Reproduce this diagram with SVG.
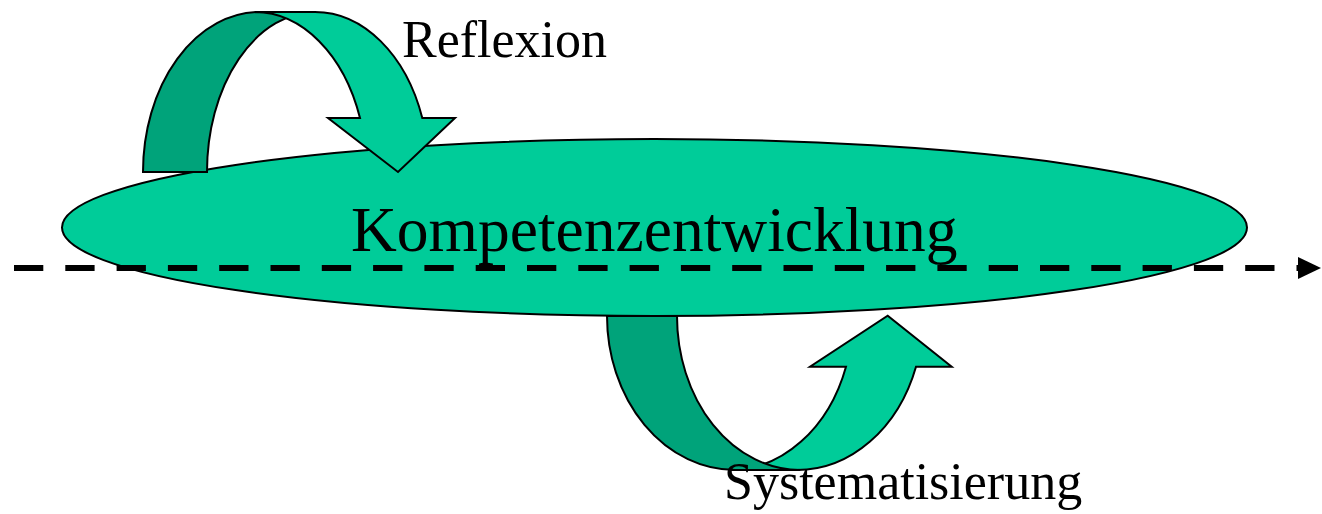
<svg xmlns="http://www.w3.org/2000/svg" width="1322" height="514" viewBox="0 0 1322 514">
  <defs>
    <style>
      .light { fill: #00CC99; stroke: #000; stroke-width: 2; stroke-linejoin: miter; }
      .dark { fill: #00A37A; stroke: #000; stroke-width: 2; }
      .label { font-family: "Liberation Serif", "Times New Roman", serif; fill: #000; }
      .axis { fill: none; stroke: #000; stroke-width: 6; stroke-dasharray: 29.3 22; }
    </style>
    <marker id="axisHead" markerUnits="userSpaceOnUse" markerWidth="24" markerHeight="24" refX="0" refY="11" orient="auto">
      <path d="M0,0 L23,11 L0,22 Z" fill="#000"/>
    </marker>
  </defs>
  <rect width="1322" height="514" fill="#fff"/>

  <!-- central ellipse -->
  <g id="kompetenzentwicklung">
    <ellipse class="light" cx="654.5" cy="227.5" rx="592.5" ry="88.5"/>
    <text class="label" x="351" y="251" font-size="63.5">Kompetenzentwicklung</text>
  </g>

  <!-- curved down arrow above the ellipse: back band, then front band with head -->
  <g id="reflexion">
    <path class="dark" d="M143,172 A117,160 0 0 1 260,12 L315.8,12 A108.8,160 0 0 0 207,172 Z"/>
    <path class="light" d="M254.8,12 L315,12 A114,160 0 0 1 422.3,118 L455,118 L398,172 L328,118 L360,118 A111.8,160 0 0 0 254.8,12 Z"/>
    <text class="label" x="402" y="57" font-size="52">Reflexion</text>
  </g>

  <!-- curved up arrow below the ellipse: front band with head, back band on top -->
  <g id="systematisierung">
    <path class="light" d="M729.8,470 L797,470 A126,154 0 0 0 916,366.7 L951.7,366.7 L887.7,315.7 L810,366.7 L846,366.7 A122.9,154 0 0 1 729.8,470 Z"/>
    <path class="dark" d="M607,316 A128,154 0 0 0 735,470 L800.2,470 A123.2,154 0 0 1 677,316 Z"/>
    <text class="label" x="724" y="499" font-size="52">Systematisierung</text>
  </g>

  <!-- dashed time axis -->
  <g id="connectors">
    <path class="axis" d="M14,268 L1298,268" marker-end="url(#axisHead)"/>
  </g>
</svg>
